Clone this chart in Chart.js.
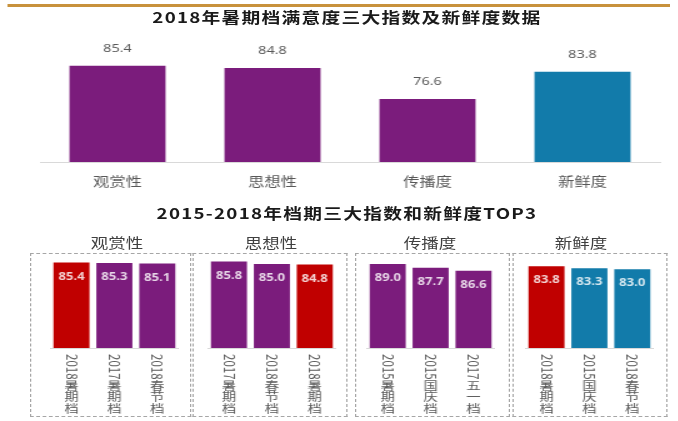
<!DOCTYPE html>
<html>
<head>
<meta charset="utf-8">
<script src="https://cdn.jsdelivr.net/npm/chart.js@4.4.0/dist/chart.umd.min.js"></script>
<style>
html, body { margin: 0; padding: 0; background: #fff; }
body { width: 678px; height: 421px; overflow: hidden; position: relative; }
/* la imagen original esta estirada a lo ancho, se reproduce con scaleX */
#lienzo { position: absolute; left: 0; top: 0; width: 542.4px; height: 421px; transform: scaleX(1.25); transform-origin: 0 0; font-family: "Noto Sans CJK SC", "Noto Sans", sans-serif; }
.linea { position: absolute; left: 6.4px; top: 4px; width: 529.6px; height: 2.5px; background: #c8923c; }
.titulo { position: absolute; left: 0; width: 555.2px; text-align: center; font-weight: bold; font-size: 15px; letter-spacing: 1px; color: #1a1a1a; line-height: 20px; }
.sub { position: absolute; top: 233px; width: 80px; text-align: center; font-size: 14px; color: #404040; line-height: 18px; }
.caja { position: absolute; top: 253px; height: 164px; border: 1px dashed #a6a6a6; box-sizing: border-box; }
canvas { position: absolute; }
</style>
</head>
<body>
<div id="lienzo">
  <div class="linea"></div>
  <div class="titulo" style="top:7px">2018年暑期档满意度三大指数及新鲜度数据</div>
  <canvas id="graficaPrincipal" width="542" height="170" style="left:0;top:28px"></canvas>

  <div class="titulo" style="top:203px">2015-2018年档期三大指数和新鲜度TOP3</div>
  <div class="sub" style="left:53.6px">观赏性</div>
  <div class="sub" style="left:176.8px">思想性</div>
  <div class="sub" style="left:304px">传播度</div>
  <div class="sub" style="left:424.8px">新鲜度</div>

  <div class="caja" style="left:24px;width:128.8px"></div>
  <div class="caja" style="left:154.4px;width:124px"></div>
  <div class="caja" style="left:284px;width:124px"></div>
  <div class="caja" style="left:410.4px;width:124px"></div>

  <canvas id="panel0" width="103" height="170" style="left:39.6px;top:250px"></canvas>
  <canvas id="panel1" width="103" height="170" style="left:166.4px;top:250px"></canvas>
  <canvas id="panel2" width="103" height="170" style="left:293.2px;top:250px"></canvas>
  <canvas id="panel3" width="103" height="170" style="left:420.4px;top:250px"></canvas>
</div>

<script>
// datos de la grafica de arriba
const indices = ['观赏性', '思想性', '传播度', '新鲜度']
const valores2018 = [85.4, 84.8, 76.6, 83.8]

// TOP3 por indice
const guanshangLabels = ['2018暑期档', '2017暑期档', '2018春节档']
const guanshangValores = [85.4, 85.3, 85.1]
const sixiangLabels = ['2017暑期档', '2018春节档', '2018暑期档']
const sixiangValores = [85.8, 85.0, 84.8]
const chuanboLabels = ['2015暑期档', '2015国庆档', '2017五一档']
const chuanboValores = [89.0, 87.7, 86.6]
const xinxianLabels = ['2018暑期档', '2015国庆档', '2018春节档']
const xinxianValores = [83.8, 83.3, 83.0]

const MORADO = '#7b1c7c'
const AZUL = '#127baa'
const ROJO = '#c00000'
const actual = '2018暑期档'

// etiqueta de valor sobre / dentro de la barra
const etiquetasValor = {
    id: 'etiquetasValor',
    afterDatasetsDraw(chart, args, opts) {
        const ctx = chart.ctx
        const meta = chart.getDatasetMeta(0)
        ctx.save()
        ctx.font = opts.font
        ctx.fillStyle = opts.color
        ctx.textAlign = 'center'
        ctx.textBaseline = 'middle'
        meta.data.forEach((barra, i) => {
            const v = chart.data.datasets[0].data[i]
            ctx.fillText(v.toFixed(1), barra.x, barra.y + opts.offset)
        })
        ctx.restore()
    }
}

// etiquetas verticales del eje x (numeros girados, chino derecho)
const etiquetasVerticales = {
    id: 'etiquetasVerticales',
    afterDraw(chart) {
        const ctx = chart.ctx
        const escala = chart.scales.x
        const tam = 11.5
        ctx.save()
        ctx.font = tam + 'px "Noto Sans CJK SC"'
        ctx.fillStyle = '#595959'
        chart.data.labels.forEach((txt, i) => {
            const x = escala.getPixelForTick(i)
            let y = escala.top + 6
            for (const ch of txt) {
                if (/[\x00-\x7f]/.test(ch)) {
                    const w = ctx.measureText(ch).width
                    ctx.save()
                    ctx.translate(x, y)
                    ctx.rotate(Math.PI / 2)
                    ctx.textAlign = 'left'
                    ctx.textBaseline = 'middle'
                    ctx.fillText(ch, 0, 0)
                    ctx.restore()
                    y += w
                } else {
                    ctx.textAlign = 'center'
                    ctx.textBaseline = 'top'
                    ctx.fillText(ch, x, y)
                    y += tam
                }
            }
        })
        ctx.restore()
    }
}

// GRAFICA PRINCIPAL
new Chart(document.getElementById('graficaPrincipal').getContext('2d'), {
    type: 'bar',
    data: {
        labels: indices,
        datasets: [{
            data: valores2018,
            backgroundColor: indices.map(n => n === '新鲜度' ? AZUL : MORADO),
            barPercentage: 0.62,
            categoryPercentage: 1
        }]
    },
    options: {
        responsive: false,
        animation: false,
        layout: { padding: { top: 9, left: 32, right: 14, bottom: 0 } },
        scales: {
            x: {
                grid: { display: false, drawTicks: false },
                border: { color: '#d9d9d9' },
                ticks: { padding: 11, color: '#595959', font: { size: 13, family: '"Noto Sans CJK SC"' } },
                afterFit(s) { s.height = 36 }
            },
            y: { display: false, min: 60, max: 93 }
        },
        plugins: {
            legend: { display: false },
            tooltip: { enabled: false },
            etiquetasValor: { font: '11.5px "Noto Sans", sans-serif', color: '#595959', offset: -17 }
        }
    },
    plugins: [etiquetasValor]
})

// PANELES TOP3
const paneles = [
    { labels: guanshangLabels, valores: guanshangValores, color: MORADO, min: 59.5, max: 87.7 },
    { labels: sixiangLabels, valores: sixiangValores, color: MORADO, min: 57, max: 88 },
    { labels: chuanboLabels, valores: chuanboValores, color: MORADO, min: 58.5, max: 92.3 },
    { labels: xinxianLabels, valores: xinxianValores, color: AZUL, min: 62, max: 86.8 }
]

paneles.forEach((p, k) => {
    new Chart(document.getElementById('panel' + k).getContext('2d'), {
        type: 'bar',
        data: {
            labels: p.labels,
            datasets: [{
                data: p.valores,
                backgroundColor: p.labels.map(l => l === actual ? ROJO : p.color),
                barPercentage: 0.84,
                categoryPercentage: 1
            }]
        },
        options: {
            responsive: false,
            animation: false,
            layout: { padding: { top: 5, left: 0, right: 0, bottom: 0 } },
            scales: {
                x: {
                    grid: { display: false, drawTicks: false },
                    border: { color: '#d9d9d9' },
                    ticks: { display: false },
                    afterFit(s) { s.height = 72 }
                },
                y: { display: false, min: p.min, max: p.max }
            },
            plugins: {
                legend: { display: false },
                tooltip: { enabled: false },
                etiquetasValor: { font: 'bold 10.5px "Open Sans", sans-serif', color: 'rgba(255,255,255,0.82)', offset: 14 }
            }
        },
        plugins: [etiquetasValor, etiquetasVerticales]
    })
})
</script>
</body>
</html>
